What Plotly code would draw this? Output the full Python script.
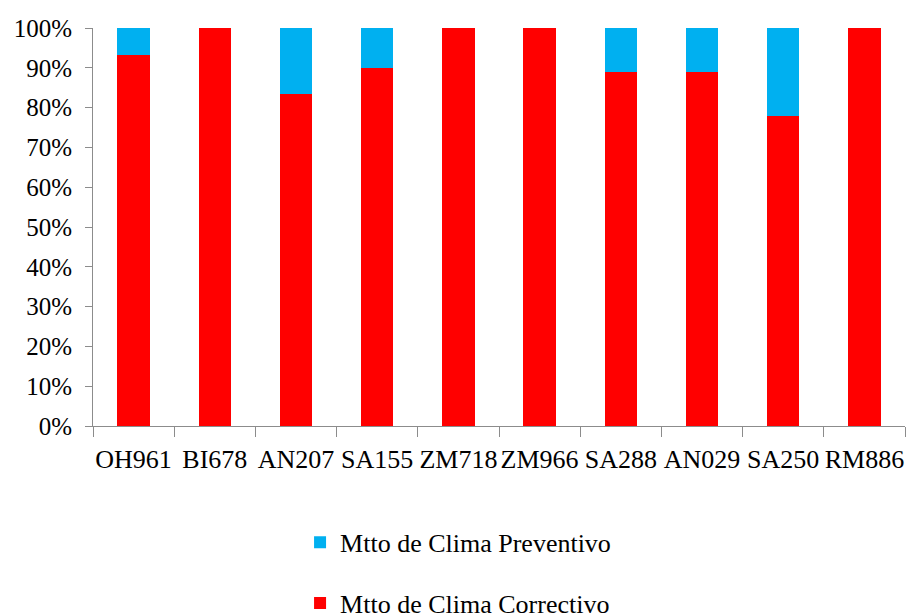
import plotly.graph_objects as go

# Share of air-conditioning maintenance per unit
units = ["OH961", "BI678", "AN207", "SA155", "ZM718", "ZM966", "SA288", "AN029", "SA250", "RM886"]
correctivo = [0.9333, 1.0, 0.8333, 0.90, 1.0, 1.0, 0.8889, 0.8889, 0.7778, 1.0]
preventivo = [0.0667, 0.0, 0.1667, 0.10, 0.0, 0.0, 0.1111, 0.1111, 0.2222, 0.0]

RED = "#FF0000"
BLUE = "#00B0F0"
AXIS_GREY = "#8C8C8C"
FONT = "Liberation Serif, Times New Roman, serif"

fig = go.Figure()
fig.add_trace(go.Bar(
    x=units, y=correctivo, name="Mtto de Clima Correctivo",
    marker=dict(color=RED, line=dict(width=0)), legendgroup="corr", legendrank=2,
))
fig.add_trace(go.Bar(
    x=units, y=preventivo, name="Mtto de Clima Preventivo",
    marker=dict(color=BLUE, line=dict(width=0)), legendgroup="prev", legendrank=1,
))

fig.update_layout(
    barmode="stack",
    bargap=0.6,
    width=908, height=615,
    margin=dict(l=93, r=3, t=28, b=189, autoexpand=False),
    plot_bgcolor="white", paper_bgcolor="white",
    font=dict(family=FONT, size=25, color="black"),
    legend=dict(x=0.255, y=-0.233, xanchor="left", yanchor="top",
                traceorder="grouped", tracegroupgap=24,
                font=dict(family=FONT, size=26), bgcolor="rgba(0,0,0,0)"),
)
fig.update_xaxes(
    type="category", showline=True, linecolor=AXIS_GREY, linewidth=1,
    ticks="outside", tickson="boundaries", ticklen=10, tickcolor=AXIS_GREY,
    showgrid=False, tickangle=0, ticklabelstandoff=10,
    tickfont=dict(family=FONT, size=26),
)
fig.update_yaxes(
    range=[0, 1], dtick=0.1, tickformat=".0%", showline=True,
    linecolor=AXIS_GREY, linewidth=1, ticks="outside", ticklen=7,
    tickcolor=AXIS_GREY, showgrid=False, zeroline=False, ticklabelstandoff=8,
    tickfont=dict(family=FONT, size=25),
)

fig.write_html("out.html")
